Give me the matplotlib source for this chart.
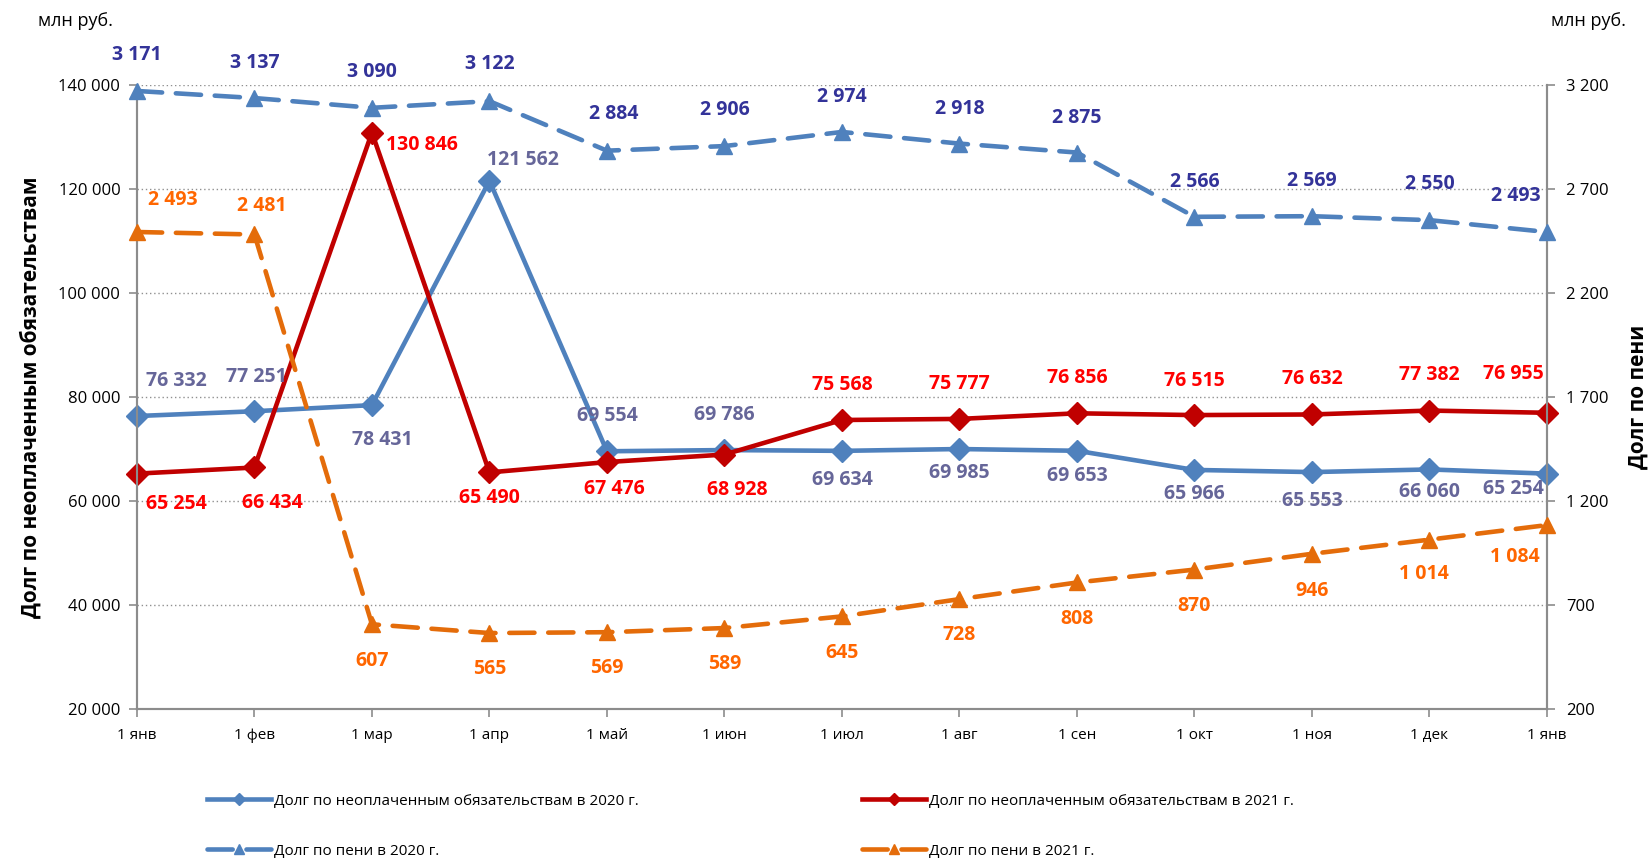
import matplotlib.pyplot as plt

plt.rcParams['font.family'] = ['Open Sans', 'DejaVu Sans']

months = ['1 янв', '1 фев', '1 мар', '1 апр', '1 май', '1 июн', '1 июл',
          '1 авг', '1 сен', '1 окт', '1 ноя', '1 дек', '1 янв']

debt_2020 = [76332, 77251, 78431, 121562, 69554, 69786, 69634, 69985,
             69653, 65966, 65553, 66060, 65254]
debt_2021 = [65254, 66434, 130846, 65490, 67476, 68928, 75568, 75777,
             76856, 76515, 76632, 77382, 76955]
peni_2020 = [3171, 3137, 3090, 3122, 2884, 2906, 2974, 2918, 2875,
             2566, 2569, 2550, 2493]
peni_2021 = [2493, 2481, 607, 565, 569, 589, 645, 728, 808, 870, 946,
             1014, 1084]

left_ticks = [20000, 40000, 60000, 80000, 100000, 120000, 140000]
right_ticks = [200, 700, 1200, 1700, 2200, 2700, 3200]

# label offsets in pixels (dx, dy), y up
off_debt_2020 = [(39, 35), (2, 34), (10, -35), (33, 21), (0, 35), (0, 35), (0, -29),
                 (0, -24), (0, -25), (0, -24), (0, -29), (0, -23), (-34, -15)]
off_debt_2021 = [(39, -30), (18, -36), (50, -12), (0, -26), (7, -27), (13, -35), (0, 35),
                 (0, 35), (0, 35), (0, 34), (0, 35), (0, 36), (-34, 39)]
off_peni_2020 = [(0, 36), (0, 35), (0, 36), (0, 37), (7, 37), (0, 36), (0, 35),
                 (0, 35), (0, 35), (0, 35), (0, 35), (0, 36), (-31, 36)]
off_peni_2021 = [(36, 32), (7, 28), (0, -37), (0, -36), (0, -36), (0, -36), (0, -37),
                 (0, -36), (0, -37), (0, -36), (0, -37), (-6, -34), (-32, -32)]


def fmt(v):
    return '{:,}'.format(v).replace(',', ' ')


fig = plt.figure(figsize=(16.52, 8.58), dpi=100)
ax = fig.add_axes([0.0829, 0.1737, 0.8535, 0.7273])
ax2 = ax.twinx()

x = list(range(len(months)))
blue = '#4F81BD'
red = '#C00000'
orange = '#E46C0A'

l1, = ax.plot(x, debt_2020, color=blue, lw=3.3, marker='D', ms=11, clip_on=False,
              zorder=3, label='Долг по неоплаченным обязательствам в 2020 г.')
l2, = ax.plot(x, debt_2021, color=red, lw=3.3, marker='D', ms=11, clip_on=False,
              zorder=4, label='Долг по неоплаченным обязательствам в 2021 г.')
l3, = ax2.plot(x, peni_2020, color=blue, lw=3.3, ls=(0, (5.5, 3)), marker='^', ms=12,
               dash_capstyle='round', clip_on=False, zorder=3,
               label='Долг по пени в 2020 г.')
l4, = ax2.plot(x, peni_2021, color=orange, lw=3.3, ls=(0, (5.5, 3)), marker='^', ms=12,
               dash_capstyle='round', clip_on=False, zorder=3,
               label='Долг по пени в 2021 г.')

lab_kw = dict(textcoords='offset pixels', ha='center', va='center',
              fontsize=14, fontweight='bold', annotation_clip=False)
for i in x:
    ax.annotate(fmt(debt_2020[i]), (i, debt_2020[i]), xytext=off_debt_2020[i],
                color='#666699', zorder=6, **lab_kw)
    ax.annotate(fmt(debt_2021[i]), (i, debt_2021[i]), xytext=off_debt_2021[i],
                color='#FF0000', zorder=6, **lab_kw)
    ax2.annotate(fmt(peni_2020[i]), (i, peni_2020[i]), xytext=off_peni_2020[i],
                 color='#333399', zorder=6, **lab_kw)
    ax2.annotate(fmt(peni_2021[i]), (i, peni_2021[i]), xytext=off_peni_2021[i],
                 color='#FF6600', zorder=6, **lab_kw)

ax.set_xlim(0, 12)
ax.set_ylim(20000, 140000)
ax2.set_ylim(200, 3200)
ax.set_yticks(left_ticks)
ax.set_yticklabels([fmt(v) for v in left_ticks], fontsize=12)
ax2.set_yticks(right_ticks)
ax2.set_yticklabels([fmt(v) for v in right_ticks], fontsize=12)
ax.set_xticks(x)
ax.set_xticklabels(months, fontsize=11)
ax.grid(axis='y', color='#909090', ls=(0, (1, 2)), lw=1)
ax.set_axisbelow(True)

for a in (ax, ax2):
    a.spines['top'].set_visible(False)
    for s in ('left', 'right', 'bottom'):
        a.spines[s].set_color('#8C8C8C')
        a.spines[s].set_linewidth(1.5)
    a.tick_params(colors='#8C8C8C', labelcolor='black', width=1.2, length=6)
ax.tick_params(axis='x', pad=8)
ax.tick_params(axis='y', pad=6)
ax2.tick_params(axis='y', pad=8)

ax.set_ylabel('Долг по неоплаченным обязательствам', fontsize=15,
              fontweight='bold', labelpad=12)
ax2.set_ylabel('Долг по пени', fontsize=15, fontweight='bold', rotation=90)
ax2.yaxis.set_label_coords(1.057, 0.5)

fig.text(0.023, 0.976, 'млн руб.', fontsize=13, va='center', ha='left')
fig.text(0.939, 0.976, 'млн руб.', fontsize=13, va='center', ha='left')

# matplotlib fills legend column by column
fig.legend(handles=[l1, l3, l2, l4], loc='lower left', bbox_to_anchor=(0.117, -0.017),
           ncol=2, frameon=False, fontsize=11, handlelength=4.2, handletextpad=0.2,
           columnspacing=14.6, labelspacing=2.3, markerscale=0.55)

fig.savefig('out.png', dpi=100)
